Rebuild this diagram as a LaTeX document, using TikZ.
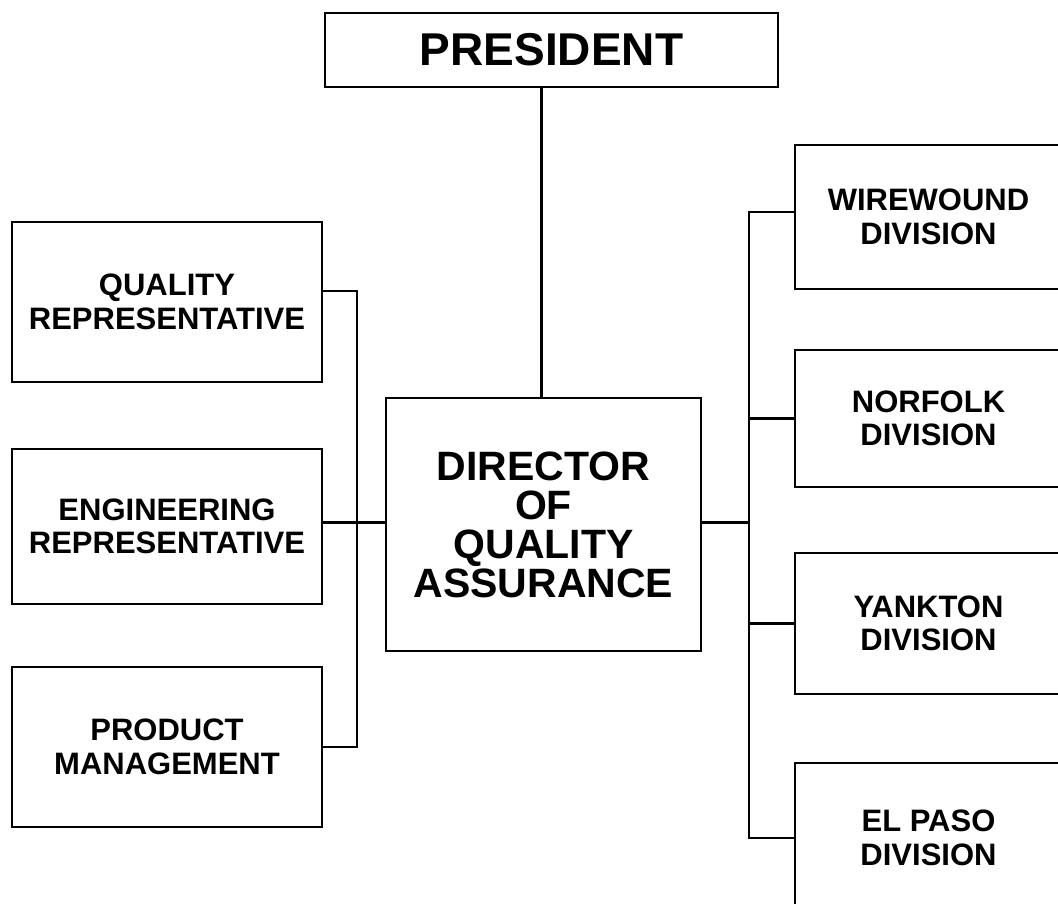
\documentclass[tikz,border=0pt]{standalone}
\usepackage{fontspec}
\setmainfont{Liberation Sans}
\usetikzlibrary{positioning,calc}

\begin{document}
\begin{tikzpicture}[
    x=1pt, y=-1pt,
    line width=2.5pt,
    box/.style={rectangle, draw, align=center, inner sep=0pt, font=\bfseries\fontsize{31}{33.5}\selectfont},
    leftbox/.style={box, minimum width=310pt},
    rightbox/.style={box, minimum width=267pt},
    link/.style={draw, line width=2.5pt}
]
\useasboundingbox (0,0) rectangle (1058,903);
\clip (0,0) rectangle (1058,903);

% Top and centre
\node[box, minimum width=453pt, minimum height=74pt, font=\bfseries\fontsize{46}{50}\selectfont] (pres) at (551.5,50) {PRESIDENT};
\node[box, minimum width=315pt, minimum height=253pt, font=\bfseries\fontsize{41}{39}\selectfont] (dir) at (543.5,524.5) {DIRECTOR\\OF\\QUALITY\\ASSURANCE};

% Staff boxes (left)
\node[leftbox, minimum height=160pt] (qrep) at (167,302) {QUALITY\\REPRESENTATIVE};
\node[leftbox, minimum height=155pt] (erep) at (167,526.5) {ENGINEERING\\REPRESENTATIVE};
\node[leftbox, minimum height=160pt] (prod) at (167,747) {PRODUCT\\MANAGEMENT};

% Divisions (right)
\node[rightbox, minimum height=144pt] (wire) at (928.5,217) {WIREWOUND\\DIVISION};
\node[rightbox, minimum height=137pt] (norf) at (928.5,418.5) {NORFOLK\\DIVISION};
\node[rightbox, minimum height=141pt] (yank) at (928.5,623.5) {YANKTON\\DIVISION};
\node[rightbox, minimum height=150pt] (elpaso) at (928.5,838) {EL PASO\\DIVISION};

% Bus lines
\coordinate (lbus) at (357,0);
\coordinate (rbus) at (749,0);

% Connectors
\draw[link] ([xshift=-2pt]dir.north) -- ([xshift=-2pt]dir.north |- pres.south);
\draw[link] ([yshift=11pt]qrep.east) -| (lbus |- prod.east) -- (prod.east);
\draw[link] ([yshift=4pt]erep.east) -- ([yshift=4pt]erep.east -| dir.west);
\draw[link] ([yshift=5pt]wire.west) -| (rbus |- elpaso.west) -- (elpaso.west);
\draw[link] (norf.west) -- (norf.west -| rbus);
\draw[link] (yank.west) -- (yank.west -| rbus);
\draw[link] ([yshift=2pt]dir.east) -- ([yshift=2pt]dir.east -| rbus);

\end{tikzpicture}
\end{document}
